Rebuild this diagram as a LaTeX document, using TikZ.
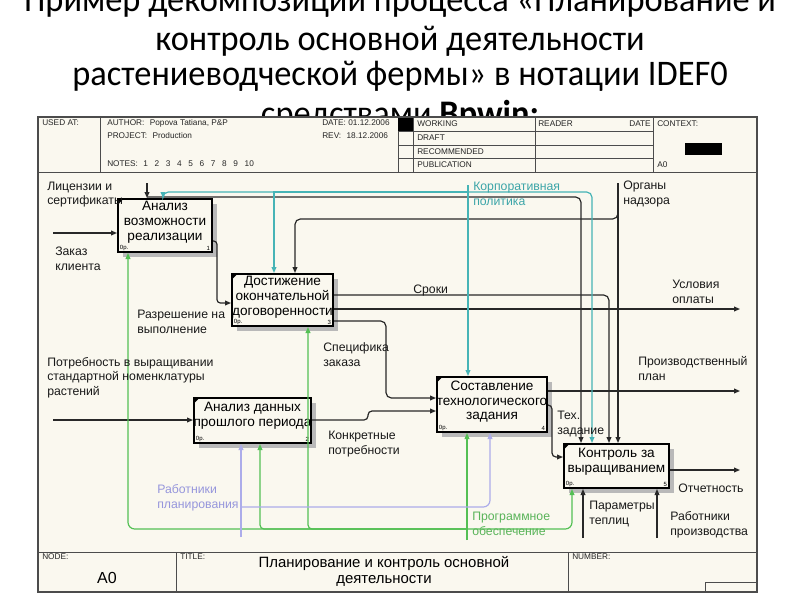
\documentclass[tikz,border=0pt]{standalone}
\usepackage{fontspec}
\setmainfont{Liberation Sans}
\newfontfamily\titlefont[FakeStretch=0.955]{Carlito}
\usetikzlibrary{arrows.meta,shadows}
\definecolor{paper}{RGB}{250,248,239}
\definecolor{tealc}{RGB}{70,180,182}
\definecolor{tealt}{RGB}{60,165,168}
\definecolor{greenc}{RGB}{84,192,84}
\definecolor{greent}{RGB}{90,180,90}
\definecolor{purpc}{RGB}{172,172,234}
\definecolor{purpt}{RGB}{150,150,220}
\definecolor{linec}{RGB}{40,40,40}
\begin{document}
\begin{tikzpicture}[x=0.75pt,y=-0.75pt,
  box/.style={draw=black, line width=1.5pt, fill=paper, inner sep=0pt,
    drop shadow={shadow xshift=3.5pt, shadow yshift=-3.5pt, fill=gray!55, opacity=1}},
  boxtext/.style={font=\fontsize{10.2}{11}\selectfont, align=center, inner sep=0pt},
  optext/.style={font=\fontsize{4.5}{5}\selectfont, inner sep=0pt},
  lbl/.style={font=\fontsize{9.2}{10.9}\selectfont, align=left, anchor=west, inner sep=0pt, text=black!90},
  hdr/.style={font=\fontsize{6.2}{7}\selectfont, anchor=west, inner sep=0pt, text=black!85},
  ttl/.style={font=\titlefont\fontsize{27}{29}\selectfont, anchor=base, inner sep=0pt},
  frameln/.style={draw=black!70, line width=1.3pt},
  thin/.style={draw=black!70, line width=0.7pt},
  arr/.style={draw=linec, line width=0.9pt, -{Triangle[length=4.5pt,width=3.6pt]}},
  tarr/.style={draw=tealc, line width=0.9pt, -{Triangle[length=4.5pt,width=3.6pt]}},
  garr/.style={draw=greenc, line width=0.9pt, -{Triangle[length=4.5pt,width=3.6pt]}},
  parr/.style={draw=purpc, line width=0.9pt, -{Triangle[length=4.5pt,width=3.6pt]}}
]
\useasboundingbox (0,0) rectangle (800,600);
\fill[white] (0,0) rectangle (800,600);

% title (its last line is hidden behind the frame, as in the reference)
\begin{scope}
\clip (0,0) rectangle (800,117);
\node[ttl] (t1) at (400,11) {Пример декомпозиции процесса «Планирование и};
\node[ttl] (t2) at (400,50) {контроль основной деятельности};
\node[ttl] (t3) at (400,85) {растениеводческой фермы» в нотации IDEF0};
\node[ttl] (t4) at (400,125) {средствами \textbf{Bpwin:}};
\end{scope}

% frame
\fill[paper] (38,117) rectangle (757,592);
\draw[thin] (38,172) -- (757,172);
\draw[thin] (100,117) -- (100,172);
\draw[thin] (398,117) -- (398,172);
\draw[thin] (413,117) -- (413,172);
\draw[thin] (535,117) -- (535,172);
\draw[thin] (653,117) -- (653,172);
\draw[thin] (398,131) -- (653,131);
\draw[thin] (398,145) -- (653,145);
\draw[thin] (398,158) -- (653,158);
\fill[black] (398,117) rectangle (413,131);
\fill[black] (685,143) rectangle (722,155);
\draw[thin] (38,552) -- (757,552);
\draw[thin] (176,552) -- (176,592);
\draw[thin] (568,552) -- (568,592);
\draw[thin] (705,592) -- (705,582) -- (757,582);
\draw[frameln] (38,117) rectangle (757,592);

% header texts
\node[hdr] (hUsed) at (42,123) {USED AT:};
\node[hdr] (hAuth) at (107,123) {AUTHOR:\hspace{4pt}Popova Tatiana, P\&P};
\node[hdr] (hProj) at (107,136) {PROJECT:\hspace{4pt}Production};
\node[hdr] (hNotes) at (107,164) {NOTES:\hspace{4pt}1\hspace{5pt}2\hspace{5pt}3\hspace{5pt}4\hspace{5pt}5\hspace{5pt}6\hspace{5pt}7\hspace{5pt}8\hspace{5pt}9\hspace{5pt}10};
\node[hdr] (hDate) at (322,123) {DATE: 01.12.2006};
\node[hdr] (hRev) at (322,136) {REV:\hspace{4pt}18.12.2006};
\node[hdr] (hWork) at (417,124) {WORKING};
\node[hdr] (hDraft) at (417,138) {DRAFT};
\node[hdr] (hRec) at (417,151.5) {RECOMMENDED};
\node[hdr] (hPub) at (417,164.5) {PUBLICATION};
\node[hdr] (hRead) at (538,124) {READER};
\node[hdr, anchor=east] (hDate2) at (651,124) {DATE};
\node[hdr] (hCtx) at (657,124) {CONTEXT:};
\node[hdr] (hA0) at (657,165) {A0};
\node[hdr] (fNode) at (42,557) {NODE:};
\node[hdr] (fTitle) at (180,557) {TITLE:};
\node[hdr] (fNum) at (572,557) {NUMBER:};
\node[font=\fontsize{12}{13}\selectfont, inner sep=0pt] (fA0) at (107,578) {A0};
\node[font=\fontsize{11.2}{12}\selectfont, align=center, inner sep=0pt] (fT) at (384,571) {Планирование и контроль основной\\деятельности};

% boxes
\node[box, minimum width=70.5pt, minimum height=39.75pt] (b1) at (165,225.5) {};
\node[box, minimum width=75.75pt, minimum height=39pt] (b3) at (282.5,300) {};
\node[box, minimum width=87.75pt, minimum height=33.75pt] (b2) at (252.5,420.5) {};
\node[box, minimum width=82.5pt, minimum height=41.25pt] (b4) at (492,404.5) {};
\node[box, minimum width=78.75pt, minimum height=33pt] (b5) at (616.5,466) {};

\foreach \b/\n in {b1/1,b2/2,b3/3,b4/4,b5/5}{
  \fill ([xshift=0.8pt,yshift=-0.8pt]\b.north west) -- ++(4pt,0pt) -- ++(-4pt,-4pt) -- cycle;
  \node[optext, anchor=south west] at ([xshift=2pt,yshift=1.5pt]\b.south west) {0p.};
  \node[optext, anchor=south east] at ([xshift=-2pt,yshift=1.5pt]\b.south east) {\n};
}
\node[boxtext] at ([yshift=2.5pt]b1.center) {Анализ\\возможности\\реализации};
\node[boxtext] at ([yshift=2pt]b3.center) {Достижение\\окончательной\\договоренности};
\node[boxtext] at ([yshift=3.5pt]b2.center) {Анализ данных\\прошлого периода};
\node[boxtext] at ([yshift=2pt]b4.center) {Составление\\технологического\\задания};
\node[boxtext] at ([yshift=3pt]b5.center) {Контроль за\\выращиванием};

% black connectors
\coordinate (cLic) at (147,183);
\coordinate (jLic) at (147,197);
\draw[arr] (cLic) -- (cLic |- b1.north);
\draw[arr, rounded corners=4pt] (jLic) -| (581,0 |- b5.north);

\coordinate (cOrg) at (618,183);
\coordinate (jOrg) at (618,211);
\draw[arr] (cOrg) -- (cOrg |- b5.north);
\draw[arr, rounded corners=4pt] (jOrg) |- (295,219) -- (295,0 |- b3.north);

\draw[arr, rounded corners=4pt] (b3.east |- 0,295) -| (609,0 |- b5.north);
\coordinate (oUsl) at (740,309);
\draw[arr] (b3.east |- oUsl) -- (oUsl);
\draw[arr, rounded corners=4pt] (b3.east |- 0,321) -| (386,398) -- (b4.west |- 0,398);
\draw[arr, rounded corners=3pt] (b2.east |- 0,420) -| (368,411) -- (b4.west |- 0,411);
\draw[arr, rounded corners=2.5pt] (b1.east |- 0,241) -| (217,303) -- (b3.west |- 0,303);
\draw[arr, rounded corners=3pt] (b4.east |- 0,405) -| (552,457) -- (b5.west |- 0,457);

\coordinate (iZak) at (53,233);
\draw[arr] (iZak) -- (b1.west |- iZak);
\coordinate (iPot) at (53,420);
\draw[arr] (iPot) -- (b2.west |- iPot);
\coordinate (oPlan) at (740,391);
\draw[arr] (b4.east |- oPlan) -- (oPlan);
\coordinate (oOtch) at (740,470);
\draw[arr] (b5.east |- oOtch) -- (oOtch);
\coordinate (mPar) at (583,538);
\draw[arr] (mPar) -- (mPar |- b5.south);
\coordinate (mRab) at (657,538);
\draw[arr] (mRab) -- (mRab |- b5.south);

% teal
\coordinate (cCorp) at (468,185);
\coordinate (tH) at (468,192);
\draw[tarr] (cCorp) -- (cCorp |- b4.north);
\draw[tarr, rounded corners=4pt] (tH) -| (163,0 |- b1.north);
\draw[tarr] (tH) -| (274,0 |- b3.north);
\draw[tarr, rounded corners=4pt] (tH) -| (592,0 |- b5.north);

% green
\coordinate (mSoft) at (467,540);
\coordinate (gH) at (467,529);
\draw[garr] (mSoft) -- (mSoft |- b4.south);
\draw[garr, rounded corners=5pt] (gH) -| (128,0 |- b1.south);
\draw[garr, rounded corners=3pt] (gH) -| (260,0 |- b2.south);
\draw[garr, rounded corners=3pt] (gH) -| (308,0 |- b3.south);
\draw[garr, rounded corners=5pt] (gH) -| (572,0 |- b5.south);

% purple
\coordinate (mPl) at (241,537);
\coordinate (pH) at (241,507);
\draw[parr] (mPl) -- (mPl |- b2.south);
\draw[parr, rounded corners=5pt] (pH) -| (490,0 |- b4.south);

% labels
\node[lbl] (lLic) at (47,194.5) {Лицензии и\\сертификаты};
\node[lbl] (lZak) at (55,259) {Заказ\\клиента};
\node[lbl] (lRaz) at (137,322) {Разрешение на\\выполнение};
\node[lbl] (lSro) at (413,290) {Сроки};
\node[lbl] (lUsl) at (672,292) {Условия\\оплаты};
\node[lbl] (lOrg) at (623,194) {Органы\\надзора};
\node[lbl, text=tealt] (lCorp) at (473,194) {Корпоративная\\политика};
\node[lbl] (lSpec) at (323,354.5) {Специфика\\заказа};
\node[lbl] (lPot) at (47,377.5) {Потребность в выращивании\\стандартной номенклатуры\\растений};
\node[lbl] (lKon) at (328,444) {Конкретные\\потребности};
\node[lbl] (lPlan) at (638,368.5) {Производственный\\план};
\node[lbl] (lTex) at (557,424) {Тех.\\задание};
\node[lbl] (lOtch) at (678,488) {Отчетность};
\node[lbl] (lPar) at (589,514) {Параметры\\теплиц};
\node[lbl] (lRab) at (670,525) {Работники\\производства};
\node[lbl, text=greent] (lSoft) at (472,524) {Программное\\обеспечение};
\node[lbl, text=purpt] (lPl) at (157,498) {Работники\\планирования};
\end{tikzpicture}
\end{document}
